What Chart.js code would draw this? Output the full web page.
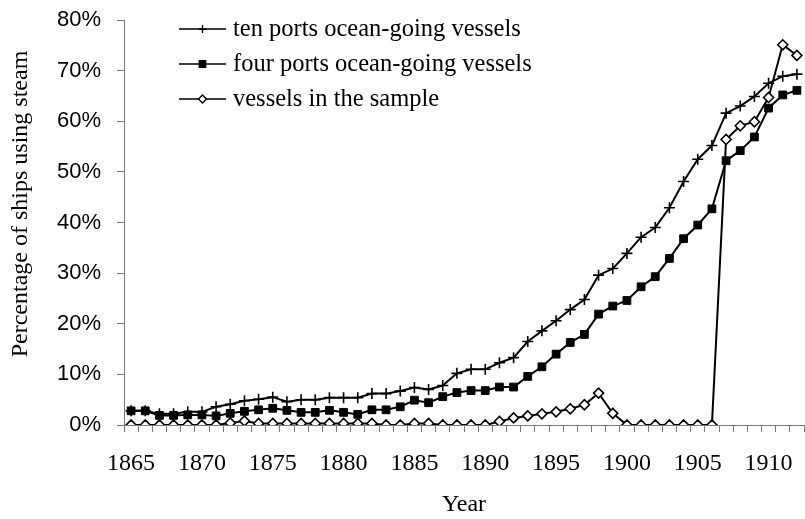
<!DOCTYPE html>
<html>
<head>
<meta charset="utf-8">
<script src="https://cdn.jsdelivr.net/npm/chart.js@4"></script>
<style>
  body { margin: 0; background: #fff; }
  canvas { display: block; }
</style>
</head>
<body>
<canvas id="steamChart" width="805" height="519"></canvas>
<script>
const years = [];
for (let y = 1865; y <= 1912; y++) years.push(String(y));

const tenPorts = [2.8, 2.8, 2.2, 2.2, 2.6, 2.6, 3.6, 4.1, 4.8, 5.1, 5.5, 4.6, 5.0, 5.0, 5.4, 5.4,
  5.4, 6.2, 6.2, 6.7, 7.4, 7.0, 7.8, 10.2, 11.0, 11.0, 12.3, 13.3, 16.5, 18.6, 20.6, 22.8,
  24.8, 29.6, 30.9, 33.9, 37.1, 39.0, 42.9, 48.1, 52.5, 55.2, 61.6, 63.0, 64.9, 67.5, 68.9, 69.3];

const fourPorts = [2.8, 2.8, 1.9, 1.9, 2.0, 2.0, 1.8, 2.3, 2.7, 3.0, 3.3, 2.9, 2.5, 2.5, 2.9, 2.5,
  2.1, 3.0, 3.0, 3.6, 4.9, 4.4, 5.6, 6.4, 6.8, 6.8, 7.5, 7.5, 9.6, 11.5, 14.0, 16.3,
  17.9, 21.9, 23.5, 24.6, 27.3, 29.3, 32.9, 36.8, 39.5, 42.7, 52.2, 54.2, 56.9, 62.6, 65.2, 66.1];

const sample = [0, 0, 0, 0, 0, 0, 0, 0.4, 0.8, 0.3, 0.3, 0.3, 0.3, 0.3, 0.3, 0.3,
  0.3, 0.3, 0, 0, 0.3, 0.3, 0, 0, 0, 0, 0.7, 1.4, 1.8, 2.2, 2.6, 3.2,
  4.0, 6.3, 2.3, 0, 0, 0, 0, 0, 0, 0, 56.4, 59.1, 59.9, 64.7, 75.1, 73.0];

const seriesNames = ['ten ports ocean-going vessels', 'four ports ocean-going vessels', 'vessels in the sample'];
const yTicks = [0, 10, 20, 30, 40, 50, 60, 70, 80];

const serif = '"Liberation Serif", "Times New Roman", serif';
const sans = '"Liberation Sans", Arial, sans-serif';
const axisGrey = '#7a7a7a';

// legend + y title drawn by hand so they sit where the original has them
const extras = {
  id: 'extras',
  afterDraw(chart) {
    const ctx = chart.ctx;
    ctx.save();
    ctx.fillStyle = '#000';
    ctx.font = '24px ' + serif;
    ctx.textAlign = 'center';
    ctx.textBaseline = 'middle';
    ctx.translate(21, 204);
    ctx.rotate(-Math.PI / 2);
    ctx.fillText('Percentage of ships using steam', 0, 0);
    ctx.restore();

    const rows = [29, 64, 99];
    const marks = [
      { pointStyle: 'cross', radius: 4, fill: '#000' },
      { pointStyle: 'rect', radius: 4.5, fill: '#000' },
      { pointStyle: 'rectRot', radius: 4, fill: '#fff' }
    ];
    ctx.save();
    chart.data.datasets.forEach((ds, i) => {
      const y = rows[i];
      ctx.strokeStyle = '#000';
      ctx.lineWidth = 1.6;
      ctx.beginPath();
      ctx.moveTo(179, y);
      ctx.lineTo(226, y);
      ctx.stroke();
      ctx.fillStyle = marks[i].fill;
      ctx.lineWidth = 1.4;
      Chart.helpers.drawPoint(ctx, { pointStyle: marks[i].pointStyle, radius: marks[i].radius, rotation: 0, borderWidth: 1.4 }, 202.5, y);
      ctx.fillStyle = '#000';
      ctx.font = '24.5px ' + serif;
      ctx.textAlign = 'left';
      ctx.textBaseline = 'middle';
      ctx.fillText(ds.label, 233, y + 1);
    });
    ctx.restore();
  }
};

new Chart(document.getElementById('steamChart'), {
  type: 'line',
  data: {
    labels: years,
    datasets: [{
      label: seriesNames[0],
      data: tenPorts,
      borderColor: '#000',
      borderWidth: 2,
      pointStyle: 'cross',
      pointRadius: 5.5,
      pointBorderWidth: 1.6,
      pointBorderColor: '#000',
      pointBackgroundColor: '#000',
      order: 3
    }, {
      label: seriesNames[1],
      data: fourPorts,
      borderColor: '#000',
      borderWidth: 2,
      pointStyle: 'rect',
      pointRadius: 5.5,
      pointBorderWidth: 1,
      pointBorderColor: '#000',
      pointBackgroundColor: '#000',
      order: 2
    }, {
      label: seriesNames[2],
      data: sample,
      borderColor: '#000',
      borderWidth: 2,
      pointStyle: 'rectRot',
      pointRadius: 5,
      pointBorderWidth: 1.6,
      pointBorderColor: '#000',
      pointBackgroundColor: '#fff',
      order: 1
    }]
  },
  options: {
    responsive: false,
    animation: false,
    devicePixelRatio: 1,
    layout: { autoPadding: false, padding: { top: 20, right: 1, left: 0, bottom: 0 } },
    plugins: {
      legend: { display: false },
      tooltip: { enabled: false }
    },
    elements: { line: { tension: 0 } },
    scales: {
      x: {
        type: 'category',
        offset: true,
        afterFit(scale) {
          scale.height = 94;
          scale.paddingLeft = 0;
          scale.paddingRight = 0;
        },
        grid: { offset: true, drawOnChartArea: false, drawTicks: true, tickLength: 7, color: axisGrey },
        border: { color: axisGrey, width: 1 },
        ticks: {
          autoSkip: false,
          maxRotation: 0,
          padding: 17,
          color: '#000',
          font: { family: serif, size: 24 },
          callback(val, i) { return i % 5 === 0 ? years[i] : ''; }
        },
        title: {
          display: true,
          text: 'Year',
          color: '#000',
          font: { family: serif, size: 24 },
          padding: { top: 0, bottom: 0 }
        }
      },
      y: {
        min: 0,
        max: 80,
        afterFit(scale) {
          scale.width = 124;
          scale.paddingTop = 0;
          scale.paddingBottom = 0;
        },
        afterBuildTicks(scale) { scale.ticks = yTicks.map(v => ({ value: v })); },
        grid: { drawOnChartArea: false, drawTicks: true, tickLength: 7, color: axisGrey },
        border: { color: axisGrey, width: 1 },
        ticks: {
          padding: 16,
          color: '#000',
          font: { family: sans, size: 22 },
          callback(v) { return v + '%'; }
        }
      }
    }
  },
  plugins: [extras]
});
</script>
</body>
</html>
